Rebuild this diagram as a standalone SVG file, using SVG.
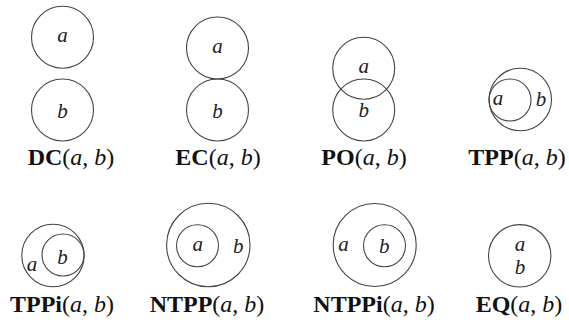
<svg xmlns="http://www.w3.org/2000/svg" width="569" height="322" viewBox="0 0 569 322">
<style>
.c{fill:none;stroke:#444;stroke-width:1.1}
.v{font-family:"Liberation Serif","DejaVu Serif",serif;font-style:italic;font-size:21px;fill:#222;text-anchor:middle}
.l{font-family:"Liberation Serif","DejaVu Serif",serif;font-size:24px;fill:#111;text-anchor:middle}
.b{font-weight:bold}
.i{font-style:italic}
</style>
<rect width="569" height="322" fill="#fff"/>
<g id="DC">
<circle class="c" cx="62.5" cy="37.2" r="31"/>
<circle class="c" cx="62.5" cy="110" r="31"/>
<text class="v" x="62.5" y="42">a</text>
<text class="v" x="62.5" y="118">b</text>
<text class="l" x="71" y="165"><tspan class="b">DC</tspan>(<tspan class="i">a</tspan>, <tspan class="i">b</tspan>)</text>
</g>
<g id="EC">
<circle class="c" cx="217.5" cy="48" r="31"/>
<circle class="c" cx="217.5" cy="110" r="31"/>
<text class="v" x="217.5" y="52.5">a</text>
<text class="v" x="217.5" y="118">b</text>
<text class="l" x="218" y="165"><tspan class="b">EC</tspan>(<tspan class="i">a</tspan>, <tspan class="i">b</tspan>)</text>
</g>
<g id="PO">
<circle class="c" cx="363.7" cy="68.3" r="31"/>
<circle class="c" cx="363.7" cy="110" r="31"/>
<text class="v" x="363.7" y="73">a</text>
<text class="v" x="363.7" y="117">b</text>
<text class="l" x="364" y="165"><tspan class="b">PO</tspan>(<tspan class="i">a</tspan>, <tspan class="i">b</tspan>)</text>
</g>
<g id="TPP">
<circle class="c" cx="520.3" cy="99.5" r="31.2"/>
<circle class="c" cx="510" cy="100" r="21"/>
<text class="v" x="498" y="105">a</text>
<text class="v" x="541" y="106">b</text>
<text class="l" x="517" y="165"><tspan class="b">TPP</tspan>(<tspan class="i">a</tspan>, <tspan class="i">b</tspan>)</text>
</g>
<g id="TPPi">
<circle class="c" cx="53" cy="255.5" r="31.2"/>
<circle class="c" cx="63" cy="255" r="21"/>
<text class="v" x="32" y="271">a</text>
<text class="v" x="62.5" y="263.5">b</text>
<text class="l" x="62" y="312"><tspan class="b">TPPi</tspan>(<tspan class="i">a</tspan>, <tspan class="i">b</tspan>)</text>
</g>
<g id="NTPP">
<circle class="c" cx="208.3" cy="245" r="41.7"/>
<circle class="c" cx="197.5" cy="245.8" r="21"/>
<text class="v" x="197.7" y="251">a</text>
<text class="v" x="238.3" y="253">b</text>
<text class="l" x="207" y="312"><tspan class="b">NTPP</tspan>(<tspan class="i">a</tspan>, <tspan class="i">b</tspan>)</text>
</g>
<g id="NTPPi">
<circle class="c" cx="374.7" cy="245" r="41.5"/>
<circle class="c" cx="384.5" cy="245.8" r="21"/>
<text class="v" x="343.5" y="251">a</text>
<text class="v" x="384.3" y="253">b</text>
<text class="l" x="374" y="312"><tspan class="b">NTPPi</tspan>(<tspan class="i">a</tspan>, <tspan class="i">b</tspan>)</text>
</g>
<g id="EQ">
<circle class="c" cx="519.7" cy="255.8" r="31.2"/>
<text class="v" x="520" y="251">a</text>
<text class="v" x="520" y="274">b</text>
<text class="l" x="519" y="312"><tspan class="b">EQ</tspan>(<tspan class="i">a</tspan>, <tspan class="i">b</tspan>)</text>
</g>
<g id="connectors"></g>
</svg>
